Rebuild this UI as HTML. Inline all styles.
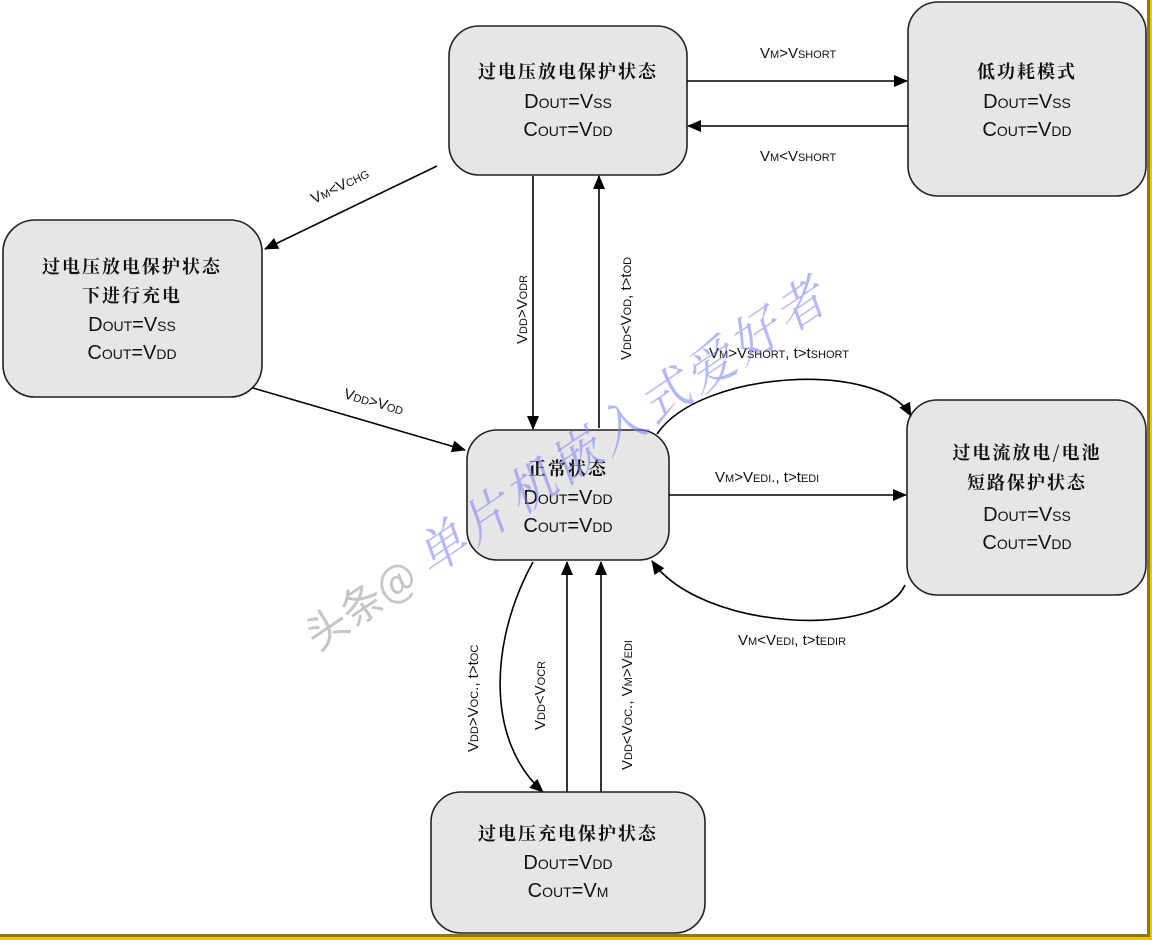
<!DOCTYPE html>
<html><head><meta charset="utf-8"><style>
html,body{margin:0;padding:0;background:#fff}
svg{display:block}
text{font-family:"Liberation Sans","Noto Sans CJK SC",sans-serif;fill:#111}
.cn{font-family:"Noto Serif CJK SC","Noto Sans CJK SC",serif;font-size:18px;letter-spacing:2px;font-weight:bold}
.v{font-size:20px}
.s{font-size:14px}
.l{font-size:15px}
.ls{font-size:11px}
</style></head><body>
<svg width="1152" height="940" viewBox="0 0 1152 940" xmlns="http://www.w3.org/2000/svg">
<defs>
<marker id="a" markerWidth="14" markerHeight="12" refX="13" refY="6" orient="auto" markerUnits="userSpaceOnUse">
<path d="M0,0 L14,6 L0,12 z" fill="#000"/></marker>
</defs>
<rect x="0" y="0" width="1152" height="940" fill="#fff"/>
<rect x="1147" y="0" width="3" height="937" fill="#8a7a10"/>
<rect x="1150" y="0" width="2" height="940" fill="#f2c200"/>
<rect x="0" y="934" width="1150" height="3" fill="#8a7a10"/>
<rect x="0" y="937" width="1152" height="3" fill="#f2c200"/>

<g fill="#e6e6e6" stroke="#222" stroke-width="1.6">
<rect x="449" y="26" width="238" height="149" rx="30"/>
<rect x="908" y="2" width="238" height="194" rx="30"/>
<rect x="3" y="220" width="259" height="177" rx="32"/>
<rect x="467" y="430" width="202" height="130" rx="30"/>
<rect x="907" y="400" width="239" height="195" rx="30"/>
<rect x="431" y="792" width="274" height="141" rx="30"/>
</g>

<g text-anchor="middle">
<text class="cn" x="568" y="78">过电压放电保护状态</text>
<text class="v" x="568" y="108">D<tspan class="s">OUT</tspan>=V<tspan class="s">SS</tspan></text>
<text class="v" x="568" y="136">C<tspan class="s">OUT</tspan>=V<tspan class="s">DD</tspan></text>

<text class="cn" x="1027" y="78">低功耗模式</text>
<text class="v" x="1027" y="108">D<tspan class="s">OUT</tspan>=V<tspan class="s">SS</tspan></text>
<text class="v" x="1027" y="136">C<tspan class="s">OUT</tspan>=V<tspan class="s">DD</tspan></text>

<text class="cn" x="132" y="273">过电压放电保护状态</text>
<text class="cn" x="132" y="302">下进行充电</text>
<text class="v" x="132" y="331">D<tspan class="s">OUT</tspan>=V<tspan class="s">SS</tspan></text>
<text class="v" x="132" y="359">C<tspan class="s">OUT</tspan>=V<tspan class="s">DD</tspan></text>

<text class="cn" x="568" y="475">正常状态</text>
<text class="v" x="568" y="504">D<tspan class="s">OUT</tspan>=V<tspan class="s">DD</tspan></text>
<text class="v" x="568" y="532">C<tspan class="s">OUT</tspan>=V<tspan class="s">DD</tspan></text>

<text class="cn" x="1027" y="459">过电流放电/电池</text>
<text class="cn" x="1027" y="489">短路保护状态</text>
<text class="v" x="1027" y="521">D<tspan class="s">OUT</tspan>=V<tspan class="s">SS</tspan></text>
<text class="v" x="1027" y="549">C<tspan class="s">OUT</tspan>=V<tspan class="s">DD</tspan></text>

<text class="cn" x="568" y="840">过电压充电保护状态</text>
<text class="v" x="568" y="869">D<tspan class="s">OUT</tspan>=V<tspan class="s">DD</tspan></text>
<text class="v" x="568" y="897">C<tspan class="s">OUT</tspan>=V<tspan class="s">M</tspan></text>
</g>

<g stroke="#000" stroke-width="1.6" fill="none" marker-end="url(#a)">
<line x1="687" y1="81" x2="907" y2="81"/>
<line x1="908" y1="126" x2="688" y2="126"/>
<line x1="437" y1="166" x2="265" y2="249"/>
<line x1="533" y1="176" x2="533" y2="429"/>
<line x1="599" y1="428" x2="599" y2="176"/>
<line x1="253" y1="388" x2="465" y2="450"/>
<path d="M657,434 C700,370 880,360 911,416"/>
<line x1="669" y1="495" x2="906" y2="495"/>
<path d="M905,585 C880,640 700,630 652,561"/>
<path d="M533,562 C490,640 485,740 543,792"/>
<line x1="567" y1="792" x2="567" y2="562"/>
<line x1="601" y1="792" x2="601" y2="562"/>
</g>

<text class="l" x="760" y="58">V<tspan class="ls">M</tspan>&gt;V<tspan class="ls">SHORT</tspan></text>
<text class="l" x="760" y="161">V<tspan class="ls">M</tspan>&lt;V<tspan class="ls">SHORT</tspan></text>
<text class="l" transform="translate(314,204) rotate(-26)">V<tspan class="ls">M</tspan>&lt;V<tspan class="ls">CHG</tspan></text>
<text class="l" transform="translate(343,398) rotate(16)">V<tspan class="ls">DD</tspan>&gt;V<tspan class="ls">OD</tspan></text>
<text class="l" transform="translate(527,344) rotate(-90)">V<tspan class="ls">DD</tspan>&gt;V<tspan class="ls">ODR</tspan></text>
<text class="l" transform="translate(631,360) rotate(-90)">V<tspan class="ls">DD</tspan>&lt;V<tspan class="ls">OD</tspan>, t&gt;t<tspan class="ls">OD</tspan></text>
<text class="l" x="709" y="358">V<tspan class="ls">M</tspan>&gt;V<tspan class="ls">SHORT</tspan>,  t&gt;t<tspan class="ls">SHORT</tspan></text>
<text class="l" x="715" y="482">V<tspan class="ls">M</tspan>&gt;V<tspan class="ls">EDI</tspan>.,  t&gt;t<tspan class="ls">EDI</tspan></text>
<text class="l" x="738" y="645">V<tspan class="ls">M</tspan>&lt;V<tspan class="ls">EDI</tspan>,  t&gt;t<tspan class="ls">EDIR</tspan></text>
<text class="l" transform="translate(478,752) rotate(-90)">V<tspan class="ls">DD</tspan>&gt;V<tspan class="ls">OC</tspan>.,  t&gt;t<tspan class="ls">OC</tspan></text>
<text class="l" transform="translate(545,730) rotate(-90)">V<tspan class="ls">DD</tspan>&lt;V<tspan class="ls">OCR</tspan></text>
<text class="l" transform="translate(632,770) rotate(-90)">V<tspan class="ls">DD</tspan>&lt;V<tspan class="ls">OC</tspan>.,  V<tspan class="ls">M</tspan>&gt;V<tspan class="ls">EDI</tspan></text>

<g transform="translate(318,652) rotate(-34)" opacity="0.55">
<text style="font-family:'Noto Sans CJK SC',sans-serif;font-size:42px;fill:#999">头条@</text>
<text x="135" style="font-family:'Noto Serif CJK SC',serif;font-size:50px;font-style:italic;fill:#7a7ff0;letter-spacing:4px">单片机嵌入式爱好者</text>
</g>
</svg>
</body></html>
